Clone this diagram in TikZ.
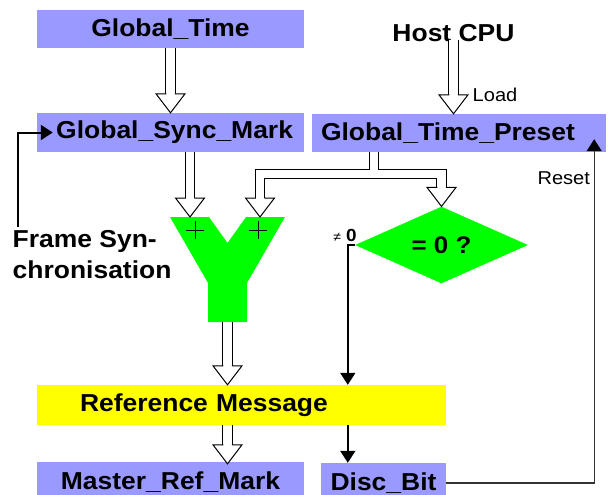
\documentclass[tikz,border=0pt]{standalone}
\usepackage{fontspec}
\setmainfont[FakeStretch=1.08]{Liberation Sans}
\usepackage{tikz}
\usepackage{xcolor}
\definecolor{boxcolor}{RGB}{153,153,255}
\definecolor{addercolor}{RGB}{0,255,0}
\definecolor{msgcolor}{RGB}{255,255,0}
\colorlet{resetcolor}{black!80}
\usetikzlibrary{
  arrows.meta,
  shapes.geometric,
  calc,
}
\tikzstyle{basicblock}=[inner sep=0pt, font=\bfseries\fontsize{24.5}{31}\selectfont]
\tikzstyle{topblock}=[basicblock, fill=boxcolor, minimum height=38pt]
\tikzstyle{lowblock}=[basicblock, minimum height=40pt]
\tikzstyle{decision}=[diamond, fill=addercolor, inner sep=0pt, minimum width=173pt, minimum height=58pt, font=\bfseries\fontsize{24}{28}\selectfont]
\tikzstyle{smalllabel}=[inner sep=0pt, font=\fontsize{18.6}{22}\selectfont]
\tikzstyle{pipe}=[draw, line width=1pt, double=white, double distance=8.5pt]
\tikzstyle{sig}=[line width=1.6pt, -{Triangle[length=12pt, width=15pt, color=black]}]
\tikzset{hollowhead/.pic={
  \fill [white] (-14.5,0) -- (14.5,0) -- (0,19) -- cycle;
  \draw [line width=1pt] (-4.25,0) -- (-14.5,0) -- (0,19) -- (14.5,0) -- (4.25,0);
}}

\begin{document}
\begin{tikzpicture}[x=1pt, y=-1pt]
	\useasboundingbox (0,0) rectangle (613,495);
	\node (gtime) [topblock, minimum width=267pt] at (170.5,29) {Global\_Time};
	\path (gtime) + (0,103.5) node (gsync) [topblock, text width=245pt, inner xsep=11pt, align=right, minimum height=39pt] {Global\_Sync\_Mark};
	\path (gtime) + (283,4) node (hostcpu) [basicblock] {Host CPU};
	\path (gtime) + (288.5,104) node (gtpreset) [topblock, text width=276pt, inner xsep=9pt, align=left] {Global\_Time\_Preset};
	\path (gtime) + (71,376) node (refmsg) [lowblock, fill=msgcolor, text width=323pt, inner xsep=43pt, align=left] {Reference Message};
	\path (gtime) + (0,453) node (master) [lowblock, fill=boxcolor, minimum width=267pt] {Master\_Ref\_Mark};
	\path (gtime) + (213,454) node (discbit) [lowblock, fill=boxcolor, minimum width=125pt] {Disc\_Bit};
	\path (gtime) + (271,216) node (decide) [decision] {= 0 ?};
	\path (gtime) + (-158,201) node (fsync) [basicblock, anchor=north west, align=left] {Frame Syn-\\chronisation};
	\path (hostcpu) + (19,62) node (loadlabel) [smalllabel, anchor=west] {Load};
	\path (gtpreset.south east) + (-16,26) node (resetlabel) [smalllabel, anchor=east] {Reset};

	\path (gtime) + (57,188) coordinate (adder);
	\fill [addercolor, shift={(adder)}] (-57.5,0) -- (-18.5,0) -- (0,26) -- (18.5,0) -- (57.5,0) -- (19.5,66) -- (19.5,105) -- (-19.5,105) -- (-19.5,66) -- cycle;
	\draw [line width=0.8pt, shift={(adder)}] (-32.5,13) +(-9,0) -- +(9,0) +(0,-9) -- +(0,9) (30.5,13) +(-9,0) -- +(9,0) +(0,-9) -- +(0,9);
	\path (adder) + (-37.5,0) coordinate (in1);
	\path (adder) + (32.5,0) coordinate (in2);
	\path (adder) + (0,105) coordinate (out);
	\path (gtpreset.south west) + (62,22) coordinate (split);

	\draw [pipe] (gtime.south) -- ($(gsync.north)+(0,-19)$);
	\pic at ($(gsync.north)+(0,-19)$) {hollowhead};
	\draw [pipe] ($(hostcpu.south)+(0,-2)$) -- ($(hostcpu.south |- gtpreset.north)+(0,-19)$);
	\pic at ($(hostcpu.south |- gtpreset.north)+(0,-19)$) {hollowhead};
	\draw [pipe] (in1 |- gsync.south) -- ($(in1)+(0,-19)$);
	\pic at ($(in1)+(0,-19)$) {hollowhead};
	\draw [pipe] (split |- gtpreset.south) -- (split) ($(in2)+(0,-19)$) |- (split) -| ($(decide.north)+(0,-19)$);
	\pic at ($(in2)+(0,-19)$) {hollowhead};
	\pic at ($(decide.north)+(0,-19)$) {hollowhead};
	\draw [pipe] (out) -- ($(out |- refmsg.north)+(0,-19)$);
	\pic at ($(out |- refmsg.north)+(0,-19)$) {hollowhead};
	\draw [pipe] (out |- refmsg.south) -- ($(out |- master.north)+(0,-17)$);
	\pic at ($(out |- master.north)+(0,-17)$) {hollowhead};

	\path (decide.west) + (-7,0) coordinate (nz);
	\path (nz) + (9,-10) node (nzlabel) [basicblock, anchor=east, font=\bfseries\fontsize{17.5}{20}\selectfont] {{\normalfont\fontsize{13}{18}\selectfont ≠}\hspace{5pt}0};
	\draw [sig] (decide.west) -| (nz |- refmsg.north);
	\draw [sig] (nz |- refmsg.south) -- (nz |- discbit.north);
	\draw [sig, draw=resetcolor, line width=1.3pt] (discbit.east) -| ($(gtpreset.south east)+(-12,-13)$);
	\draw [sig, line width=2pt] ($(fsync.north west)+(5,-3)$) |- ($(gsync.west)+(16,0)$);
\end{tikzpicture}
\end{document}
